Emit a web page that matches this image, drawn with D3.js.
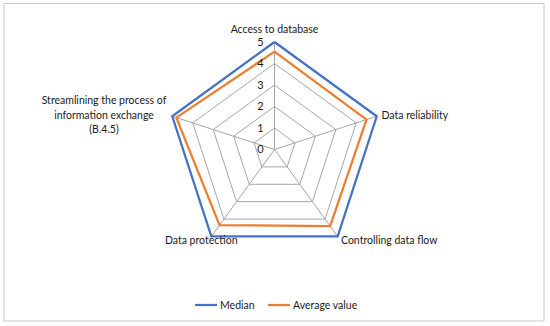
<!DOCTYPE html>
<html><head><meta charset="utf-8">
<script src="https://cdn.jsdelivr.net/npm/d3@7"></script>
<style>body{margin:0;background:#fff}svg{display:block}text{font-family:Lato,"Open Sans",sans-serif;fill:#1a1a1a}</style>
</head><body><svg id="c" width="550" height="326"></svg>
<script>
const categories = ["Access to database","Data reliability","Controlling data flow","Data protection","Streamlining the process of information exchange (B.4.5)"];
const medianValues = [5,5,5,5,5];
const averageValues = [4.55,4.5,4.4,4.35,4.8];
const tickValues = [0,1,2,3,4,5];
const seriesNames = ["Median","Average value"];
const seriesColors = ["#4472C4","#ED7D31"];

const svg = d3.select("#c");
svg.append("rect").attr("x",4).attr("y",3.5).attr("width",540).attr("height",317.5)
  .attr("fill","#fff").attr("stroke","#c8c8c8").attr("stroke-width",1);

const cx = 274.5, cy = 149.5, R = 107.5;
const r = d3.scaleLinear().domain([0,5]).range([0,R]);
const angle = i => i*2*Math.PI/categories.length;
const pt = (i,v) => [cx + r(v)*Math.sin(angle(i)), cy - r(v)*Math.cos(angle(i))];

const g = svg.append("g");
tickValues.slice(1).forEach(t=>{
  g.append("path").attr("d", d3.line()(categories.map((c,i)=>pt(i,t)).concat([pt(0,t)])))
   .attr("fill","none").attr("stroke","#a6a6a6").attr("stroke-width",1);
});
categories.forEach((c,i)=>{
  const p = pt(i,5);
  g.append("line").attr("x1",cx).attr("y1",cy).attr("x2",p[0]).attr("y2",p[1])
   .attr("stroke","#a6a6a6").attr("stroke-width",1);
});
[medianValues, averageValues].forEach((vals,k)=>{
  g.append("path").attr("d", d3.line()(vals.map((v,i)=>pt(i,v)).concat([pt(0,vals[0])])))
   .attr("fill","none").attr("stroke",seriesColors[k]).attr("stroke-width",2.25).attr("stroke-linejoin","miter");
});
tickValues.forEach(t=>{
  g.append("text").attr("x",cx-14).attr("y",cy - r(t)).attr("dy","0.35em")
   .attr("text-anchor","middle").attr("font-size",11).text(t);
});
const labelPos = [
  {x:274.5, y:29, anchor:"middle", lines:["Access to database"]},
  {x:381.5, y:115.5, anchor:"start", lines:["Data reliability"]},
  {x:341, y:240.5, anchor:"start", lines:["Controlling data flow"]},
  {x:237.5, y:240.5, anchor:"end", lines:["Data protection"]},
  {x:104, y:115, anchor:"middle", lines:["Streamlining the process of","information exchange","(B.4.5)"]}
];
labelPos.forEach((lp,i)=>{
  const n = lp.lines.length;
  const t = g.append("text").attr("x",lp.x).attr("y",lp.y).attr("text-anchor",lp.anchor).attr("font-size",10.5);
  lp.lines.forEach((l,j)=>{
    t.append("tspan").attr("x",lp.x).attr("y", lp.y + (j-(n-1)/2)*14.3).attr("dy","0.35em").text(l);
  });
});
const legX = [195, 268];
seriesNames.forEach((s,k)=>{
  svg.append("line").attr("x1",legX[k]).attr("x2",legX[k]+22).attr("y1",305).attr("y2",305)
    .attr("stroke",seriesColors[k]).attr("stroke-width",2.25);
  svg.append("text").attr("x",legX[k]+25).attr("y",305).attr("dy","0.35em").attr("font-size",10.5).text(s);
});
</script></body></html>
